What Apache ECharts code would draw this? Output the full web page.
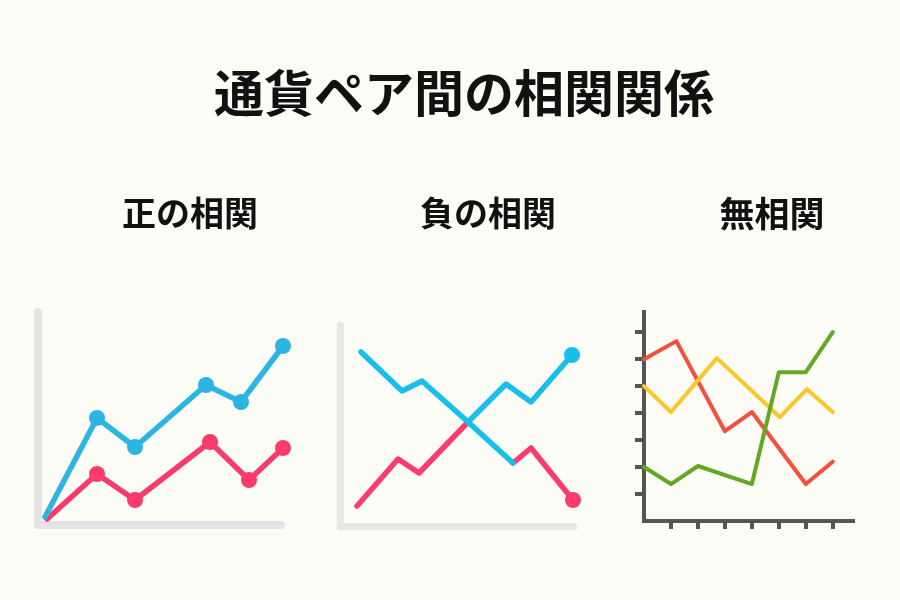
<!DOCTYPE html>
<html>
<head>
<meta charset="utf-8">
<script src="https://cdn.jsdelivr.net/npm/echarts@6/dist/echarts.min.js"></script>
<style>
  html, body { margin: 0; padding: 0; background: #fcfcf7; }
  #chart { width: 900px; height: 600px; }
</style>
</head>
<body>
<div id="chart"></div>
<script>
// タイトル
const mainTitle = '通貨ペア間の相関関係';
const panelTitles = ['正の相関', '負の相関', '無相関'];

// 正の相関 (1単位 = 10px)
const posBlue = [[0.7, 0.8], [5.9, 10.7], [9.7, 7.8], [16.8, 14.0], [20.3, 12.3], [24.5, 17.9]];
const posRed = [[0.9, 0.6], [5.9, 5.1], [9.7, 2.5], [17.2, 8.3], [21.1, 4.5], [24.5, 7.7]];

// 負の相関 (1単位 = 10px)
const negBlueDown = [[2.1, 17.4], [6.2, 13.5], [8.2, 14.5], [12.8, 10.4], [17.3, 6.3]];
const negRedEnd = [[17.3, 6.3], [19.1, 7.8], [23.3, 2.6]];
const negRedUp = [[1.7, 2.0], [5.8, 6.7], [7.9, 5.3], [12.8, 10.4]];
const negBlueEnd = [[12.8, 10.4], [16.6, 14.2], [19.1, 12.4], [23.2, 17.1]];

// 無相関 (目盛り 1..7)
const noneTicks = [1, 2, 3, 4, 5, 6, 7];
const noneRed = [[0, 6.0], [1.2, 6.67], [3, 3.33], [4, 4.04], [6, 1.37], [7, 2.2]];
const noneYellow = [[0, 5.0], [1, 4.04], [2.7, 6.04], [5.04, 3.85], [6.04, 4.89], [7, 4.04]];
const noneGreen = [[0, 2.0], [1, 1.37], [2, 2.04], [4, 1.37], [5, 5.52], [6, 5.52], [7, 7.0]];

let myChart = echarts.init(document.getElementById('chart'));

// 点の表示: 先頭だけ点なし / 最後だけ点あり
function dotsExceptFirst(list) {
    return list.map((p, i) => i === 0 ? { value: p, symbol: 'none' } : p);
}
function dotOnlyLast(list) {
    return list.map((p, i) => i === list.length - 1 ? p : { value: p, symbol: 'none' });
}

function softAxis(gridIndex, max, color, width) {
    return {
        type: 'value', gridIndex: gridIndex, min: 0, max: max,
        axisLine: { show: true, onZero: false, lineStyle: { color: color, width: width, cap: 'round' } },
        axisTick: { show: false }, axisLabel: { show: false }, splitLine: { show: false }
    };
}
function darkAxis(gridIndex, max, len) {
    return {
        type: 'value', gridIndex: gridIndex, min: 0, max: max,
        axisLine: { show: true, onZero: false, lineStyle: { color: '#555555', width: 4, cap: 'square' } },
        axisTick: { show: true, length: len, customValues: noneTicks, lineStyle: { color: '#555555', width: 4 } },
        axisLabel: { show: false }, splitLine: { show: false }
    };
}
function line(xi, data, color, width, size) {
    return {
        type: 'line', xAxisIndex: xi, yAxisIndex: xi, data: data,
        symbol: 'circle', symbolSize: size, showAllSymbol: true, clip: false,
        itemStyle: { color: color },
        lineStyle: { color: color, width: width, cap: 'round', join: 'round' },
        emphasis: { disabled: true }, silent: true
    };
}

let option = {
    animation: false,
    backgroundColor: '#fcfcf7',
    title: [
        { text: mainTitle, left: 459, top: 63, textAlign: 'center',
          textStyle: { fontFamily: 'Noto Sans CJK JP', fontWeight: 'bold', fontSize: 50, color: '#111111' } },
        { text: panelTitles[0], left: 185, top: 191, textAlign: 'center',
          textStyle: { fontFamily: 'Noto Sans CJK JP', fontWeight: 'bold', fontSize: 34, color: '#111111' } },
        { text: panelTitles[1], left: 483, top: 191, textAlign: 'center',
          textStyle: { fontFamily: 'Noto Sans CJK JP', fontWeight: 'bold', fontSize: 34, color: '#111111' } },
        { text: panelTitles[2], left: 767, top: 191, textAlign: 'center',
          textStyle: { fontFamily: 'Noto Sans CJK JP', fontWeight: 'bold', fontSize: 35, color: '#111111' } }
    ],
    grid: [
        { left: 38, top: 312, width: 243, height: 213 },
        { left: 340, top: 325, width: 234, height: 201 },
        { left: 644, top: 312, width: 209, height: 209 }
    ],
    xAxis: [
        softAxis(0, 24.3, '#e4e4e4', 8),
        softAxis(1, 23.4, '#e8e8e8', 7),
        darkAxis(2, 7.75, 8)
    ],
    yAxis: [
        softAxis(0, 21.3, '#e4e4e4', 8),
        softAxis(1, 20.1, '#e8e8e8', 7),
        darkAxis(2, 7.75, 9)
    ],
    series: [
        line(0, dotsExceptFirst(posRed), '#f93b6b', 5.5, 16),
        line(0, dotsExceptFirst(posBlue), '#2cb5e3', 5.5, 16),
        line(1, dotOnlyLast(negRedUp), '#fe3a6f', 5.5, 0),
        line(1, dotOnlyLast(negRedEnd), '#fe3a6f', 5.5, 16),
        line(1, dotOnlyLast(negBlueEnd), '#17bfea', 5.5, 16),
        line(1, dotOnlyLast(negBlueDown), '#17bfea', 5.5, 0),
        line(2, noneRed.map(p => ({ value: p, symbol: 'none' })), '#f5503b', 4, 0),
        line(2, noneYellow.map(p => ({ value: p, symbol: 'none' })), '#fdc72b', 4, 0),
        line(2, noneGreen.map(p => ({ value: p, symbol: 'none' })), '#62a823', 4, 0)
    ]
};
myChart.setOption(option);
</script>
</body>
</html>
